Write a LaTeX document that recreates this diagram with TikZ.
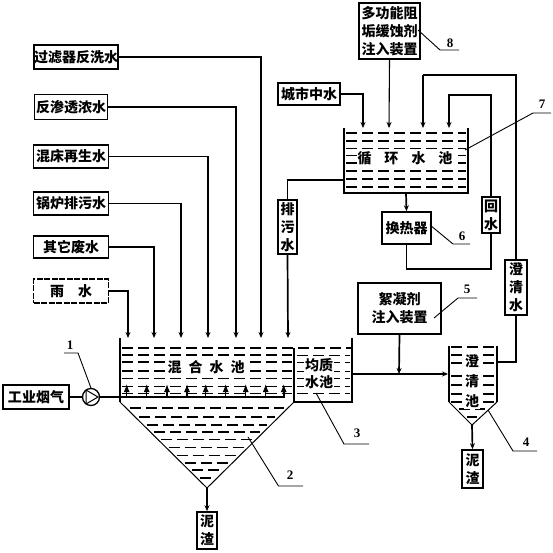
\documentclass[tikz,border=0pt]{standalone}
\usepackage{fontspec}
\setmainfont{Noto Sans CJK SC}
\newfontfamily\numfont{Liberation Serif}[Scale=1]
\usetikzlibrary{arrows.meta}
\tikzset{
  x=1pt,y=-1pt,
  box/.style={draw,line width=1.6pt,inner sep=0pt,align=center,font=\fontsize{14}{14}\selectfont\bfseries},
  vbox/.style={box,font=\fontsize{14}{18}\selectfont\bfseries},
  pipe/.style={line width=1.1pt},
  heavy/.style={line width=1.7pt},
  flow/.style={-{Stealth[length=6pt,width=5pt]}},
  upflow/.style={-{Latex[length=8pt,width=6pt]}},
  wall/.style={line width=1.4pt},
  cone/.style={line width=1pt},
  lvl/.style={line width=1.1pt,dash pattern=on 11pt off 5pt},
  thinlvl/.style={line width=0.6pt,dash pattern=on 11pt off 5pt},
  lead/.style={line width=0.9pt},
  num/.style={font=\numfont\bfseries\fontsize{13}{13}\selectfont,inner sep=0pt},
  ttext/.style={fill=white,inner sep=1pt,align=center,font=\fontsize{14}{17}\selectfont\bfseries},
}
\begin{document}
\begin{tikzpicture}
\useasboundingbox (0,0) rectangle (553,553);
% tips into the mixing tank
\foreach \n/\x in {a/128,b/154,c/181,d/208,e/236,f/261,g/288}{\coordinate (tip\n) at (\x,338);}
\foreach \n/\x in {a/363,b/389,c/423,d/449}{\coordinate (cir\n) at (\x,128);}
% water levels
\foreach \y in {355,362,371}{\draw[lvl] (122,\y) -- (292,\y);}
\foreach \y in {378,386,393}{\draw[thinlvl] (122,\y) -- (292,\y);}
\draw[lvl] (122,348) -- (352,348);
\foreach \y in {355,362,371,378,386,393}{\draw[thinlvl] (297,\y) -- (350,\y);}
\foreach \y in {408,417,425,432,463,470,478}{
  \pgfmathsetmacro{\h}{(488-\y)*1.0-3}
  \draw[lvl] (207-\h,\y) -- (207+\h,\y);
}
\foreach \y in {439,447,455}{
  \pgfmathsetmacro{\h}{(488-\y)*1.0-3}
  \draw[thinlvl] (207-\h,\y) -- (207+\h,\y);
}
\foreach \y in {133,141,163,171,179,187}{\draw[lvl] (346,\y) -- (466,\y);}
\foreach \y in {148,155}{\draw[thinlvl] (346,\y) -- (466,\y);}
\foreach \y in {347,355,363,376,385,394,402}{\draw[lvl] (451,\y) -- (495,\y);}
\foreach \y in {409,417}{
  \pgfmathsetmacro{\h}{(425-\y)-3}
  \draw[lvl] (472-\h,\y) -- (472+\h,\y);
}
% tanks
\draw[wall] (120,338) -- (120,402);
\draw[wall] (294,348) -- (294,402);
\draw[cone] (120,402) -- (207,488) -- (294,402);
\draw[wall] (294,402) -- (352,402) -- (352,338);
\draw[wall] (344,128) -- (344,193) -- (468,193) -- (468,128);
\draw[wall] (449,346) -- (449,402);
\draw[wall] (497,346) -- (497,402);
\draw[cone] (449,402) -- (472,425) -- (497,402);
\coordinate (mixapex) at (207,488);
\coordinate (clrapex) at (472,425);
\coordinate (clrin) at (448,374);
\coordinate (eqout) at (352,374);
\coordinate (join) at (399,374);
\coordinate (cirbot) at (406,193);
\coordinate (cirleft) at (344,180);
\coordinate (clrright) at (497,362);
% tank texts
\node[ttext] (mixt) at (206,367) {混\hspace{7pt}合\hspace{7pt}水\hspace{7pt}池};
\node[ttext] (eqt) at (319,374) {均质\\水池};
\node[ttext] (cirt) at (405,158) {循\hspace{13pt}环\hspace{13pt}水\hspace{13pt}池};
\node[ttext,font=\fontsize{14}{20}\selectfont\bfseries] (clrt) at (472,381) {澄\\清\\池};
% source boxes
\node[box] (s1) at (76,57) [minimum width=84pt,minimum height=24pt] {过滤器反洗水};
\node[box] (s2) at (71,107) [minimum width=73pt,minimum height=25pt] {反渗透浓水};
\node[box] (s3) at (71,156.5) [minimum width=75pt,minimum height=23pt] {混床再生水};
\node[box] (s4) at (71,203.5) [minimum width=75pt,minimum height=23pt] {锅炉排污水};
\node[box] (s5) at (71,247) [minimum width=75pt,minimum height=22pt] {其它废水};
\node[box,dash pattern=on 6pt off 1.5pt] (s6) at (71,291) [minimum width=75pt,minimum height=24pt] {雨\hspace{14pt}水};
\node[box] (gas) at (36,397) [minimum width=66pt,minimum height=24pt] {工业烟气};
\node[box] (city) at (309,94) [minimum width=62pt,minimum height=22pt] {城市中水};
\node[box,font=\fontsize{14}{18}\selectfont\bfseries] (agent) at (389.5,31) [minimum width=61pt,minimum height=56pt] {多功能阻\\垢缓蚀剂\\注入装置};
\node[box] (hx) at (406.5,228) [minimum width=49pt,minimum height=32pt] {换热器};
\node[box,font=\fontsize{14}{18}\selectfont\bfseries] (floc) at (399.5,308.5) [minimum width=83pt,minimum height=51pt] {絮凝剂\\注入装置};
\node[vbox] (drain) at (287.5,227) [minimum width=19pt,minimum height=54pt] {排\\污\\水};
\node[vbox] (ret) at (491,215) [minimum width=18pt,minimum height=36pt] {回\\水};
\node[vbox] (clw) at (516,287.5) [minimum width=22pt,minimum height=55pt] {澄\\清\\水};
\node[vbox] (mud1) at (207,530.5) [minimum width=20pt,minimum height=37pt] {泥\\渣};
\node[vbox] (mud2) at (472.5,469) [minimum width=21pt,minimum height=38pt] {泥\\渣};
% pump
\node[draw,circle,line width=1.3pt,minimum size=17pt,inner sep=0pt] (pump) at (91,397) {};
\draw[line width=1pt] (86,390) -- (98,397) -- (86,404) -- cycle;
% source connectors
\draw[heavy,flow] (s1.east) -| (tipf);
\draw[pipe,flow] (s2.east) -| (tipe);
\draw[pipe,flow] (s3.east) -| (tipd);
\draw[pipe,flow] (s4.east) -| (tipc);
\draw[heavy,flow] (s5.east) -| (tipb);
\draw[pipe,flow] (s6.east) -| (tipa);
% gas
\coordinate (busend) at (284,397);
\draw[pipe] (gas.east) -- (pump.west);
\draw[heavy] (pump.east) -- (busend) -- (284,392);
\foreach \x in {126.7,146.7,167,187,205.7,225.7,245.7,265.7,283.7}{
  \draw[pipe,upflow] (\x,397) -- (\x,384);
}
% mud
\draw[heavy,flow] (mixapex) -- (mud1.north);
\draw[heavy,flow] (clrapex) -- (mud2.north);
% circulation
\draw[heavy,flow] (city.east) -| (cira);
\draw[pipe,flow] (agent.south) -- (cirb);
\draw[heavy,flow] (cirbot) -- (hx.north);
\draw[heavy] (cirleft) -| (drain.north);
\draw[heavy,flow] (drain.south) -- (tipg);
\draw[heavy] (hx.south) |- (491,269) -- (ret.south);
\draw[pipe,flow] (ret.north) |- (449,95) -- (cird);
\draw[heavy] (clw.north) |- (423,75);
\draw[pipe,flow] (423,75) -- (circ);
\draw[heavy] (clw.south) |- (clrright);
% equaliser outlet and flocculant
\draw[heavy,flow] (eqout) -- (clrin);
\draw[heavy,flow] (floc.south) -- (join);
% leaders and numbers
\draw[lead] (64,353) -- (78,353) -- (91,388);
\node[num] (n1) at (70,345) {1};
\draw[lead] (248,437) -- (278.5,486) -- (303,486);
\node[num] (n2) at (290,475) {2};
\draw[lead] (316,393) -- (344,444) -- (369,444);
\node[num] (n3) at (357,433) {3};
\draw[lead] (488,410) -- (513,451) -- (537,451);
\node[num] (n4) at (526,442) {4};
\draw[lead] (434,318) -- (458,298) -- (477,298);
\node[num] (n5) at (467,289) {5};
\draw[lead] (430,225) -- (453,244) -- (470,244);
\node[num] (n6) at (462,236) {6};
\draw[lead] (465,150) -- (533,113) -- (551,113);
\node[num] (n7) at (542,104) {7};
\draw[lead] (418,30) -- (440,50) -- (459,50);
\node[num] (n8) at (450,43) {8};
\end{tikzpicture}
\end{document}
